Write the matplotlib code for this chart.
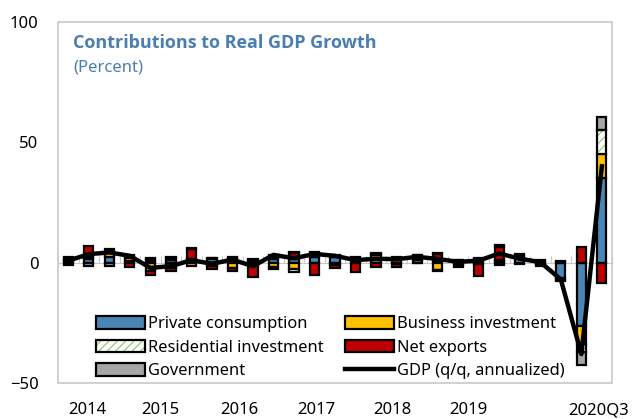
import numpy as np
import matplotlib.pyplot as plt
from matplotlib.patches import Rectangle
import matplotlib.transforms as mtransforms

plt.rcParams['font.family'] = ['Noto Sans', 'DejaVu Sans']
plt.rcParams['hatch.linewidth'] = 0.8

# Quarters 2014Q1 .. 2020Q3
quarters = [f'{y}Q{q}' for y in range(2014, 2021) for q in range(1, 5)][:27]

private_cons = [0.8, 1.5, 2.2, 0.8, 0.8, 1.2, 1.0, 1.4, 1.3, 0.8, 1.6, 1.3, 2.5, 2.2,
                1.2, 2.0, 1.2, 1.2, 0.6, 0.6, 0.5, 0.8, 1.8, 0.5, -6.5, -26.5, 35.0]
business_inv = [0.3, 0.6, 1.8, 1.0, -3.5, -2.2, -1.5, -1.5, -2.4, -0.8, -2.0, -2.8, 0.8, -1.2,
                0.3, 1.0, 0.5, 0.3, -3.0, -1.2, 1.0, -1.0, 0.5, -0.5, -0.8, -7.5, 10.0]
residential_inv = [0.3, 0.6, 0.6, 0.8, 0.5, 0.5, 0.3, 0.3, 0.4, 0.3, 0.3, -1.0, 0.6, 0.3,
                   0.2, 0.5, -0.5, -0.2, -0.5, -0.6, -0.4, 0.3, 0.8, 0.3, 0.4, -3.0, 10.0]
net_exports = [1.0, 4.0, 1.0, -1.7, -1.6, -1.5, 4.5, -1.0, -1.2, -5.0, 1.2, 2.8, -5.0, -1.0,
               -4.0, -2.0, -1.5, 1.5, 3.0, 0.3, -5.0, 5.5, -0.8, -1.0, 0.3, 6.5, -8.5]
government = [-1.2, -1.5, -1.4, 0.6, 0.5, 0.5, 0.2, 0.4, 0.5, 0.3, -0.6, 0.3, 0.5, 0.5,
              0.5, 0.4, 0.5, 0.2, 0.3, 0.3, 0.4, 0.5, 0.4, 0.4, -0.5, -5.5, 5.5]
gdp = [0.8, 3.5, 4.2, 2.8, -2.2, -1.5, 1.0, -0.5, 1.2, -1.5, 3.2, 1.8, 3.6, 2.8,
       1.0, 1.6, 1.4, 2.4, 1.5, 0.3, 0.8, 3.8, 1.6, 0.2, -7.0, -38.0, 40.0]

year_labels = ['2014', '2015', '2016', '2017', '2018', '2019', '2020Q3']
year_label_pos = [0.95, 4.5, 8.35, 12.1, 15.8, 19.5, 25.85]

blue = '#4a86b5'
yellow = '#ffc000'
red = '#c00000'
grey = '#a6a6a6'
green = '#8cc168'
frame_col = '#c8c8c8'
title_col = '#4a7eb0'

fig = plt.figure(figsize=(6.34, 4.19), dpi=100)
ax = fig.add_axes([0.0915, 0.086, 0.874, 0.862])

x = np.arange(len(quarters))
w = 0.45
pos_base = np.zeros(len(x))
neg_base = np.zeros(len(x))

def stack(vals, **kw):
    vals = np.array(vals, dtype=float)
    bottoms = np.where(vals >= 0, pos_base, neg_base)
    bars = ax.bar(x, vals, w, bottom=bottoms, zorder=3, **kw)
    pos_base[:] += np.where(vals >= 0, vals, 0)
    neg_base[:] += np.where(vals < 0, vals, 0)
    return bars

b_pc = stack(private_cons, color=blue, edgecolor='black', linewidth=1.6)
b_bus = stack(business_inv, color=yellow, edgecolor='black', linewidth=1.6)
# residential: white with green hatching, then black outline
res = np.array(residential_inv)
bott = np.where(res >= 0, pos_base, neg_base)
b_res_h = ax.bar(x, res, w, bottom=bott, color='white', edgecolor=green,
                 hatch='////', linewidth=0, zorder=3)
b_res = ax.bar(x, res, w, bottom=bott, fill=False, edgecolor='black',
               linewidth=1.6, zorder=3.1)
pos_base += np.where(res >= 0, res, 0)
neg_base += np.where(res < 0, res, 0)
b_net = stack(net_exports, color=red, edgecolor='black', linewidth=1.6)
b_gov = stack(government, color=grey, edgecolor='black', linewidth=1.6)

ln, = ax.plot(x, gdp, color='black', linewidth=3.2, zorder=4)

ax.set_xlim(-0.47, 26.42)
ax.set_ylim(-50, 100)
ax.set_yticks([-50, 0, 50, 100])
ax.tick_params(axis='y', length=0, pad=14, labelsize=12)

# horizontal axis at zero with quarter-boundary ticks
ax.spines['bottom'].set_position(('data', 0))
ax.spines['bottom'].set_color(frame_col)
ax.spines['bottom'].set_zorder(2)
ax.set_xticks(np.arange(-0.5, 27, 1))
ax.tick_params(axis='x', direction='in', length=5, color=frame_col, labelbottom=False)
for s in ['left', 'right', 'top']:
    ax.spines[s].set_visible(False)
ax.add_patch(Rectangle((0, 0), 1, 1, transform=ax.transAxes, fill=False,
                       edgecolor=frame_col, linewidth=1.2, clip_on=False, zorder=5))

trans = mtransforms.blended_transform_factory(ax.transData, ax.transAxes)
for lab, p in zip(year_labels, year_label_pos):
    ax.text(p, -0.075, lab, transform=trans, ha='center', va='center', fontsize=12)

ax.text(0.027, 0.94, 'Contributions to Real GDP Growth', transform=ax.transAxes,
        fontsize=13, fontweight='bold', color=title_col, va='center',
        family=['Open Sans', 'DejaVu Sans'])
ax.text(0.027, 0.873, '(Percent)', transform=ax.transAxes,
        fontsize=12, color=title_col, va='center')

handles = [b_pc, (b_res_h, b_res), b_gov, b_bus, b_net, ln]
labels = ['Private consumption', 'Residential investment', 'Government',
          'Business investment', 'Net exports', 'GDP (q/q, annualized)']
leg = ax.legend(handles, labels, ncol=2, loc='upper left', bbox_to_anchor=(0.056, 0.203),
                frameon=False, fontsize=11.8, handlelength=3.0, handleheight=0.8,
                handletextpad=0.2, labelspacing=0.46, columnspacing=1.3, borderaxespad=0)
leg.set_zorder(1)

fig.savefig('out.png', dpi=100)
